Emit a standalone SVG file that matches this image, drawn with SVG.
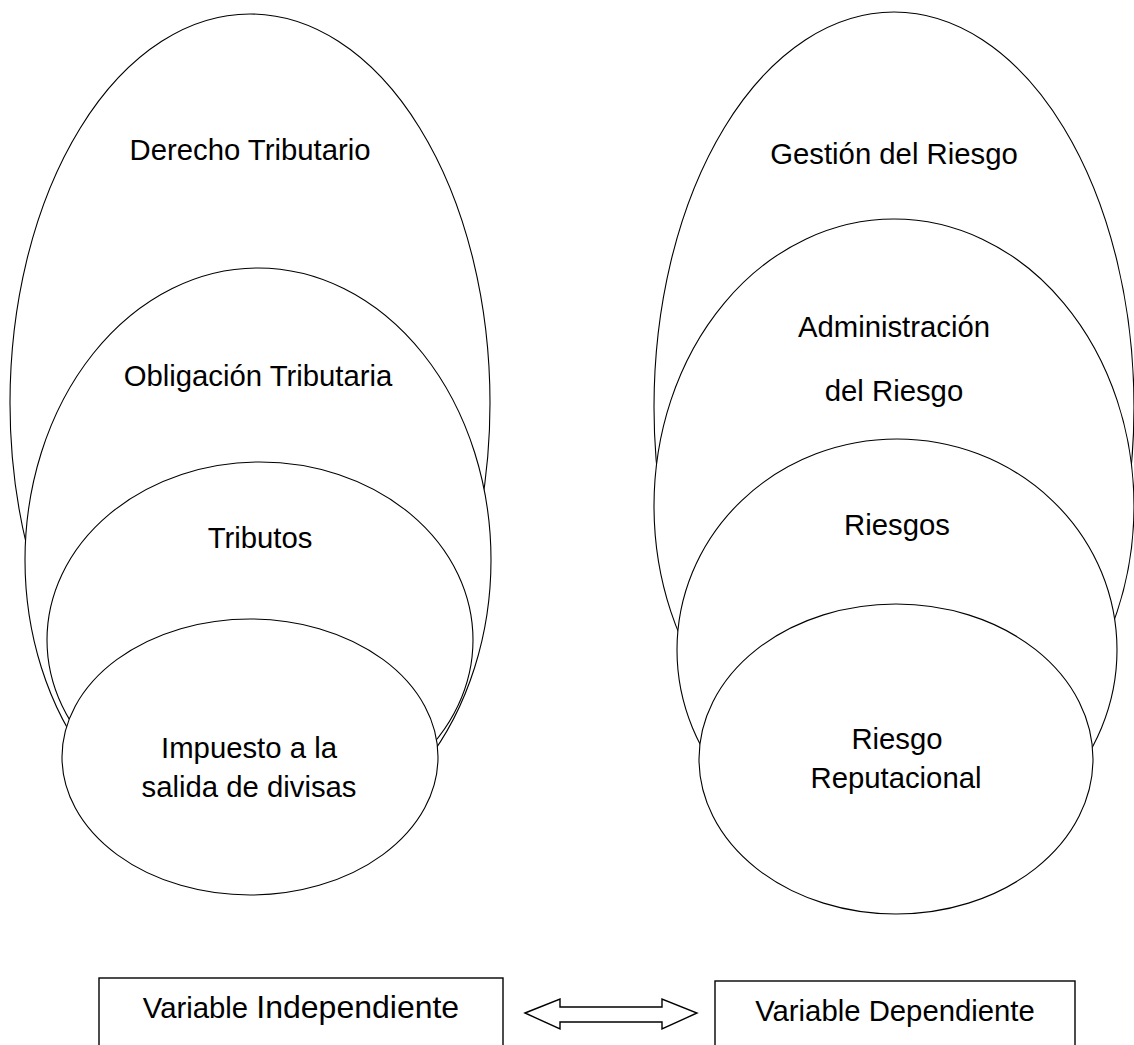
<svg xmlns="http://www.w3.org/2000/svg" width="1134" height="1045" viewBox="0 0 1134 1045">
<style>
.e{fill:#fff;stroke:#000;stroke-width:1.1}
.b{fill:#fff;stroke:#000;stroke-width:1.4}
.t{font-family:"Liberation Sans",Arial,sans-serif;font-size:29.3px;fill:#000;text-anchor:middle}
</style>
<rect width="1134" height="1045" fill="#fff"/>
<g id="derecho-tributario"><ellipse class="e" cx="250" cy="403" rx="240" ry="389"/><text class="t" x="250" y="160">Derecho Tributario</text></g>
<g id="obligacion-tributaria"><ellipse class="e" cx="258" cy="560" rx="233" ry="292"/><text class="t" x="258" y="386">Obligación Tributaria</text></g>
<g id="tributos"><ellipse class="e" cx="260" cy="640" rx="213" ry="178"/><text class="t" x="260" y="548">Tributos</text></g>
<g id="impuesto"><ellipse class="e" cx="250" cy="757" rx="188" ry="138"/><text class="t" x="249" y="758">Impuesto a la</text><text class="t" x="249" y="797">salida de divisas</text></g>
<g id="gestion-riesgo"><ellipse class="e" cx="894" cy="407" rx="240" ry="395"/><text class="t" x="894" y="164">Gestión del Riesgo</text></g>
<g id="administracion-riesgo"><ellipse class="e" cx="894" cy="506" rx="240" ry="287"/><text class="t" x="894" y="337">Administración</text><text class="t" x="894" y="401">del Riesgo</text></g>
<g id="riesgos"><ellipse class="e" cx="897" cy="650" rx="220" ry="211"/><text class="t" x="897" y="535">Riesgos</text></g>
<g id="riesgo-reputacional"><ellipse class="e" cx="896" cy="759" rx="197" ry="155"/><text class="t" x="897" y="749">Riesgo</text><text class="t" x="896" y="788">Reputacional</text></g>
<g id="variable-independiente"><rect class="b" x="99" y="978" width="404" height="80"/><text class="t" x="301" y="1018">Variable <tspan style="font-size:32px">Independiente</tspan></text></g>
<g id="variable-dependiente"><rect class="b" x="715" y="981" width="360" height="80"/><text class="t" x="895" y="1021">Variable Dependiente</text></g>
<g id="connectors"><polygon class="b" points="525,1013 560,999 560,1007 662,1007 662,999 697,1013 662,1029 662,1022 560,1022 560,1029"/></g>
</svg>
